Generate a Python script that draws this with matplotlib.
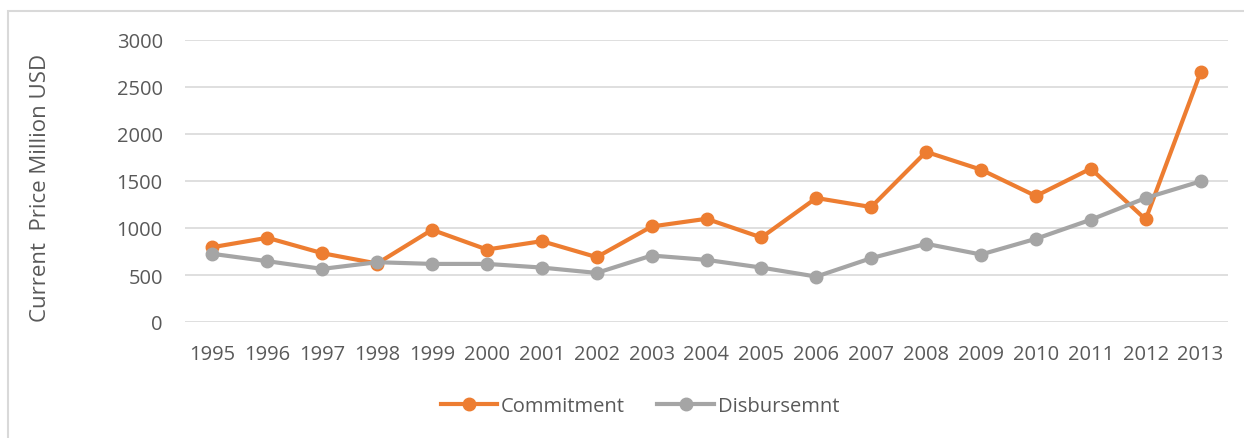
import matplotlib.pyplot as plt
from matplotlib.patches import Rectangle

years = [str(y) for y in range(1995, 2014)]
commitment = [796, 896, 732, 622, 981, 771, 860, 690, 1016, 1098,
              899, 1319, 1223, 1810, 1621, 1340, 1632, 1091, 2655]
disbursement = [725, 647, 565, 636, 618, 618, 579, 522, 707, 661,
                579, 483, 679, 832, 718, 885, 1088, 1319, 1496]

plt.rcParams['font.family'] = ['Open Sans', 'DejaVu Sans']
txt = '#595959'

fig = plt.figure(figsize=(12.44, 4.39), dpi=100)
ax = fig.add_axes([185 / 1244, 1 - 323 / 439, 1043 / 1244, 282 / 439])

# 外框
fig.patches.append(Rectangle((8 / 1244, -0.05), 1.1, 1 - 12 / 439 + 0.05,
                             transform=fig.transFigure, fill=False,
                             edgecolor='#D9D9D9', linewidth=1.5))

x = range(len(years))
ax.plot(x, commitment, color='#ED7D31', lw=3, marker='o', ms=9,
        label='Commitment', zorder=3)
ax.plot(x, disbursement, color='#A5A5A5', lw=3, marker='o', ms=9,
        label='Disbursemnt', zorder=3)

ax.set_xlim(-0.5, len(years) - 0.5)
ax.set_ylim(0, 3000)
ax.set_yticks(range(0, 3001, 500))
ax.set_xticks(list(x))
ax.set_xticklabels(years)
ax.grid(axis='y', color='#D9D9D9', lw=1.2)
ax.set_axisbelow(True)
for s in ax.spines.values():
    s.set_visible(False)
ax.tick_params(length=0, labelsize=14.5, colors=txt)
ax.tick_params(axis='x', pad=16)
ax.tick_params(axis='y', pad=16)

ax.set_ylabel('Current  Price Million USD', fontsize=16, color=txt)
ax.yaxis.set_label_coords(-0.128, 0.48)

leg = fig.legend(loc='center', bbox_to_anchor=(640 / 1244, 1 - 407 / 439),
                 ncol=2, frameon=False, fontsize=14.5, handlelength=2.8,
                 handletextpad=0.2, columnspacing=1.6)
for t in leg.get_texts():
    t.set_color(txt)

fig.savefig('out.png', dpi=100)
